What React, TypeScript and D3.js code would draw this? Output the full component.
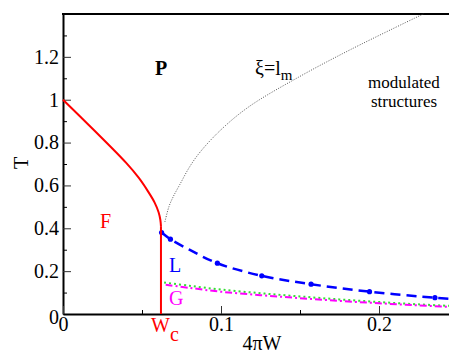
import React, { useEffect, useRef } from 'react';
import * as d3 from 'd3';

// red F/P boundary (4πW, T)
const fCurve: [number, number][] = [
    [0, 1], [0.02, 0.855], [0.04, 0.705], [0.048, 0.635], [0.054, 0.57],
    [0.058, 0.52], [0.0605, 0.475], [0.0616, 0.44], [0.062, 0.41]
];
const wc = 0.062;

// xi = l_m line
const xiCurve: [number, number][] = [
    [0.0645, 0.43], [0.067, 0.5], [0.0698, 0.548], [0.074, 0.605], [0.08, 0.685],
    [0.0867, 0.755], [0.1, 0.86], [0.118, 0.969], [0.15, 1.109], [0.182, 1.234], [0.228, 1.4]
];

// L line, dashed blue with dots
const lCurve: [number, number][] = [
    [0.0624, 0.38], [0.068, 0.349], [0.08, 0.3], [0.0977, 0.237], [0.1258, 0.178],
    [0.157, 0.139], [0.194, 0.104], [0.2354, 0.076], [0.25, 0.068]
];
const lDots: [number, number][] = [
    [0.0624, 0.38], [0.068, 0.349], [0.0977, 0.237], [0.1258, 0.178],
    [0.157, 0.139], [0.194, 0.104], [0.2354, 0.076]
];

// G lines
const gMagenta: [number, number][] = [
    [0.065, 0.136], [0.08, 0.122], [0.1, 0.104], [0.125, 0.088], [0.15, 0.074],
    [0.175, 0.061], [0.2, 0.05], [0.225, 0.04], [0.25, 0.031]
];
const gGreen: [number, number][] = [
    [0.064, 0.147], [0.08, 0.132], [0.1, 0.114], [0.125, 0.097], [0.15, 0.082],
    [0.175, 0.068], [0.2, 0.056], [0.225, 0.045], [0.25, 0.036]
];

const yMajor = [0, 0.2, 0.4, 0.6, 0.8, 1, 1.2];
const yMinor = [0.1, 0.3, 0.5, 0.7, 0.9, 1.1, 1.3];
const xMajor = [0, 0.1, 0.2];
const xMinor = [0.05, 0.15, 0.25];

export default function App() {
    const ref = useRef<SVGSVGElement>(null);
    const W = 449, H = 354;
    const serif = "'Liberation Serif', 'Times New Roman', Tinos, 'DejaVu Serif', serif";

    useEffect(() => {
        const svg = d3.select(ref.current);
        svg.selectAll('*').remove();

        const x = d3.scaleLinear().domain([0, 0.25]).range([63, 458]);
        const y = d3.scaleLinear().domain([0, 1.4]).range([314, 14]);

        const line = d3.line<[number, number]>()
            .x(d => x(d[0]))
            .y(d => y(d[1]));

        // minor ticks
        svg.append('g').attr('transform', 'translate(63,0)')
            .call(d3.axisLeft(y).tickValues(yMinor).tickSize(-4).tickSizeOuter(0).tickFormat(() => ''))
            .call(g => g.select('.domain').remove());
        svg.append('g').attr('transform', 'translate(0,314)')
            .call(d3.axisBottom(x).tickValues(xMinor).tickSize(-4).tickSizeOuter(0).tickFormat(() => ''))
            .call(g => g.select('.domain').remove());

        // major axes
        const yAxis = svg.append('g').attr('transform', 'translate(63,0)')
            .call(d3.axisLeft(y).tickValues(yMajor).tickSize(-8).tickSizeOuter(0).tickPadding(4)
                .tickFormat(d => d3.format('')(d as number)));
        const xAxis = svg.append('g').attr('transform', 'translate(0,314)')
            .call(d3.axisBottom(x).tickValues(xMajor).tickSize(-8).tickSizeOuter(0).tickPadding(3)
                .tickFormat(d => d3.format('')(d as number)));
        [yAxis, xAxis].forEach(a => {
            a.attr('font-family', null).attr('font-size', null);
            a.selectAll('text').attr('font-family', serif).attr('font-size', 20).attr('fill', '#000');
            a.select('.domain').attr('stroke-width', 2);
            a.selectAll('.tick line').attr('stroke', '#333');
        });
        yAxis.select('.tick text').attr('dy', '0.45em');

        // top frame line
        svg.append('line')
            .attr('x1', 62).attr('x2', W).attr('y1', y(1.4)).attr('y2', y(1.4))
            .attr('stroke', '#000').attr('stroke-width', 2);

        const smooth = line.curve(d3.curveCatmullRom.alpha(0.5));

        // xi = l_m
        svg.append('path').datum(xiCurve)
            .attr('d', smooth)
            .attr('fill', 'none').attr('stroke', '#555').attr('stroke-width', 1)
            .attr('stroke-dasharray', '1,1.5');

        // G lines
        svg.append('path').datum(gGreen)
            .attr('d', smooth)
            .attr('fill', 'none').attr('stroke', '#33dd33').attr('stroke-width', 2)
            .attr('stroke-dasharray', '2,3');
        svg.append('path').datum(gMagenta)
            .attr('d', smooth)
            .attr('fill', 'none').attr('stroke', '#ff00ff').attr('stroke-width', 2)
            .attr('stroke-dasharray', '7,3,2,3');

        // L line
        svg.append('path').datum(lCurve)
            .attr('d', smooth)
            .attr('fill', 'none').attr('stroke', '#0000ff').attr('stroke-width', 2.5)
            .attr('stroke-dasharray', '10,6');
        svg.append('g').selectAll('circle')
            .data(lDots)
            .join('circle')
            .attr('cx', d => x(d[0]))
            .attr('cy', d => y(d[1]))
            .attr('r', 2.6)
            .attr('fill', '#0000ff');

        // F boundary
        svg.append('path').datum(fCurve)
            .attr('d', smooth)
            .attr('fill', 'none').attr('stroke', '#ff0000').attr('stroke-width', 2);
        svg.append('line')
            .attr('x1', x(wc)).attr('x2', x(wc)).attr('y1', y(0.41)).attr('y2', y(0))
            .attr('stroke', '#ff0000').attr('stroke-width', 2);

        // labels
        const txt = (tx: number, ty: number, s: string, fill = '#000', size = 20) =>
            svg.append('text').attr('x', tx).attr('y', ty).text(s)
                .attr('fill', fill).attr('font-family', serif).attr('font-size', size);

        txt(155, 75, 'P').attr('font-weight', 'bold');
        const xi = txt(255, 75, 'ξ=l');
        xi.append('tspan').attr('dy', 5).attr('font-size', 15).text('m');
        txt(404, 88, 'modulated', '#000', 17).attr('text-anchor', 'middle');
        txt(404, 107, 'structures', '#000', 17).attr('text-anchor', 'middle');
        txt(100, 228, 'F', '#ff0000');
        txt(169, 272, 'L', '#0000ff');
        txt(169, 305, 'G', '#ff00ff');
        const wcl = txt(151, 332, 'W', '#ff0000');
        wcl.append('tspan').attr('dy', 9).text('c');
        txt(262, 350, '4πW').attr('text-anchor', 'middle');
        svg.append('text')
            .attr('transform', 'translate(28,163) rotate(-90)')
            .attr('text-anchor', 'middle')
            .attr('font-family', serif).attr('font-size', 20)
            .text('T');
    }, []);

    return (
        <div>
            <svg ref={ref} width={W} height={H}
                style={{ position: 'absolute', left: 0, top: 0, background: '#fff' }} />
        </div>
    );
}
